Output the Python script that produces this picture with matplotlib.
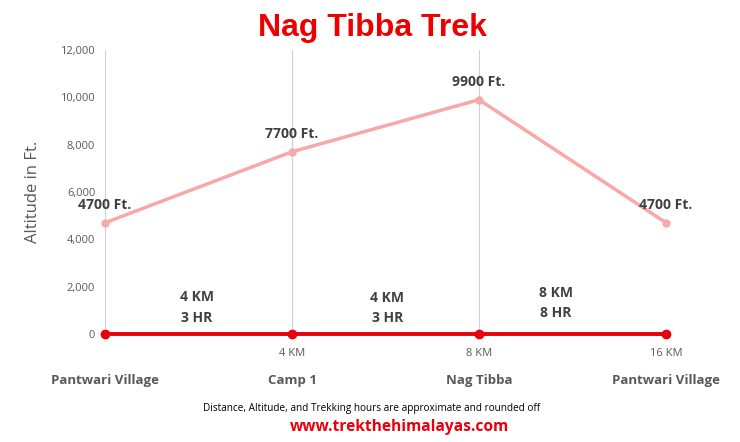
import matplotlib
matplotlib.use("Agg")
import matplotlib.pyplot as plt
import matplotlib.transforms as mtransforms

places = ["Pantwari Village", "Camp 1", "Nag Tibba", "Pantwari Village"]
distance_ticks = ["", "4 KM", "8 KM", "16 KM"]
altitude = [4700, 7700, 9900, 4700]
altitude_labels = ["4700 Ft.", "7700 Ft.", "9900 Ft.", "4700 Ft."]
base_line = [0, 0, 0, 0]
segment_km = ["4 KM", "4 KM", "8 KM"]
segment_hr = ["3 HR", "3 HR", "8 HR"]
segment_x = [0.49, 1.51, 2.41]
segment_y = [1120, 1080, 1310]
y_ticks = [0, 2000, 4000, 6000, 8000, 10000, 12000]

W, H = 740, 442
fig = plt.figure(figsize=(W / 100, H / 100), dpi=100)
fig.patch.set_facecolor("white")
ax = fig.add_axes([105 / W, (H - 334) / H, 561 / W, 284 / H])

xs = list(range(len(places)))
ax.set_xlim(0, 3)
ax.set_ylim(0, 12000)

ax.plot(xs, altitude, color="#F7A8A8", lw=2.5, marker="o", ms=5, clip_on=False, zorder=3)
ax.plot(xs, base_line, color="#E8000B", lw=2.8, marker="o", ms=6, clip_on=False, zorder=4)

for x, y, lab in zip(xs, altitude, altitude_labels):
    ax.annotate(lab, (x, y), xytext=(0, 8), textcoords="offset points",
                ha="center", va="bottom", fontsize=10, fontweight="bold",
                color="#404040", family="Open Sans")

for sx, km, hr, sy in zip(segment_x, segment_km, segment_hr, segment_y):
    ax.annotate(km + "\n" + hr, (sx, sy), ha="center", va="center",
                fontsize=10, fontweight="bold", color="#404040",
                family="Open Sans", linespacing=1.55)

ax.set_yticks(y_ticks)
ax.set_yticklabels([f"{v:,}" for v in y_ticks], fontsize=8, color="#595959", family="Open Sans")
ax.set_xticks(xs)
ax.set_xticklabels(distance_ticks, fontsize=8, color="#595959", family="Open Sans")
ax.tick_params(axis="both", length=0)
ax.tick_params(axis="y", pad=7)
ax.tick_params(axis="x", pad=10)
for s in ax.spines.values():
    s.set_visible(False)
ax.grid(axis="x", color="#C5D3E0", lw=0.8)
ax.set_axisbelow(True)

trans = mtransforms.blended_transform_factory(ax.transData, ax.transAxes)
for x, name in zip(xs, places):
    ax.text(x, -0.162, name, transform=trans, ha="center", va="center",
            fontsize=9.5, fontweight="bold", color="#595959", family="Open Sans")

ax.set_ylabel("Altitude in Ft.", fontsize=12, color="#595959", family="Open Sans", labelpad=14)

fig.text(372 / W, 1 - 28 / H, "Nag Tibba Trek", ha="center", va="center",
         fontsize=23, fontweight="bold", color="#EE0000", family="Liberation Sans")
fig.text(372 / W, 1 - 408 / H, "Distance, Altitude, and Trekking hours are approximate and rounded off",
         ha="center", va="center", fontsize=7.2, color="#000000", family="Open Sans")
fig.text(399 / W, 1 - 427 / H, "www.trekthehimalayas.com", ha="center", va="center",
         fontsize=11.2, fontweight="bold", color="#E8000B", family="Open Sans")

fig.savefig("out.png", dpi=100, facecolor="white")
